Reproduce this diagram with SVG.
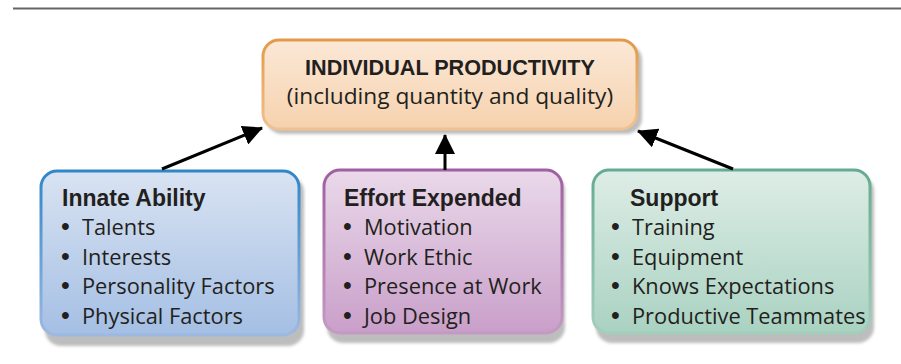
<svg xmlns="http://www.w3.org/2000/svg" width="901" height="364" viewBox="0 0 901 364">
<defs>
<style>
.t{font-family:"Open Sans","Liberation Sans",sans-serif;font-size:21.8px;fill:#231f20}
.b{font-family:"Liberation Sans",Arial,sans-serif;font-size:25px}
.h{font-family:"Liberation Sans",Arial,sans-serif;font-weight:bold;font-size:23px;fill:#231f20}
.shadow{fill:#bdbdbd;filter:url(#blur)}
.conn{stroke:#000;stroke-width:3;fill:none;marker-end:url(#ah)}
</style>
<filter id="blur" x="-10%" y="-10%" width="120%" height="130%"><feGaussianBlur stdDeviation="1.5"/></filter>
<marker id="ah" markerUnits="userSpaceOnUse" markerWidth="20" markerHeight="20" viewBox="0 0 20 20" refX="19" refY="10" orient="auto"><path d="M0,0 L20,10 L0,20 z" fill="#000"/></marker>
<linearGradient id="fO" x1="0" y1="0" x2="0" y2="1"><stop offset="0" stop-color="#fbe8d6"/><stop offset="1" stop-color="#f6d2ae"/></linearGradient>
<linearGradient id="sO" x1="0" y1="0" x2="0" y2="1"><stop offset="0" stop-color="#e29a48"/><stop offset="1" stop-color="#f0c290"/></linearGradient>
<linearGradient id="fB" x1="0" y1="0" x2="0" y2="1"><stop offset="0" stop-color="#d9e3f2"/><stop offset="1" stop-color="#a4bfe4"/></linearGradient>
<linearGradient id="sB" x1="0" y1="0" x2="0" y2="1"><stop offset="0" stop-color="#2f86c8"/><stop offset="1" stop-color="#9db9e2"/></linearGradient>
<linearGradient id="fP" x1="0" y1="0" x2="0" y2="1"><stop offset="0" stop-color="#ead9ea"/><stop offset="1" stop-color="#c99fc9"/></linearGradient>
<linearGradient id="sP" x1="0" y1="0" x2="0" y2="1"><stop offset="0" stop-color="#a05fa0"/><stop offset="1" stop-color="#c49ac4"/></linearGradient>
<linearGradient id="fG" x1="0" y1="0" x2="0" y2="1"><stop offset="0" stop-color="#deede7"/><stop offset="1" stop-color="#a9d2c1"/></linearGradient>
<linearGradient id="sG" x1="0" y1="0" x2="0" y2="1"><stop offset="0" stop-color="#65ab90"/><stop offset="1" stop-color="#a3cfbd"/></linearGradient>
</defs>
<rect x="0" y="0" width="901" height="364" fill="#ffffff"/>
<line x1="13" y1="8.5" x2="901" y2="8.5" stroke="#666" stroke-width="2"/>

<g id="productivity">
<rect class="shadow" x="266" y="44" width="376" height="90" rx="16"/>
<rect x="263" y="40" width="374" height="89" rx="16" fill="url(#fO)" stroke="url(#sO)" stroke-width="3"/>
<text x="450" y="75" text-anchor="middle" style="font-family:'Liberation Sans',Arial,sans-serif;font-weight:bold;font-size:21.6px;fill:#231f20">INDIVIDUAL PRODUCTIVITY</text>
<text x="450" y="104" text-anchor="middle" class="t" style="font-size:22.7px">(including quantity and quality)</text>
</g>

<g id="innate">
<rect class="shadow" x="45" y="176" width="259" height="170" rx="16"/>
<rect x="41" y="171" width="258" height="164" rx="16" fill="url(#fB)" stroke="url(#sB)" stroke-width="3"/>
<text class="h" x="62" y="206">Innate Ability</text>
<text class="t" y="235"><tspan class="b" x="61">•</tspan><tspan x="82">Talents</tspan></text>
<text class="t" y="264.5"><tspan class="b" x="61">•</tspan><tspan x="82">Interests</tspan></text>
<text class="t" y="294"><tspan class="b" x="61">•</tspan><tspan x="82">Personality Factors</tspan></text>
<text class="t" y="323.5"><tspan class="b" x="61">•</tspan><tspan x="82">Physical Factors</tspan></text>
</g>

<g id="effort">
<rect class="shadow" x="327" y="175" width="238" height="168" rx="16"/>
<rect x="324" y="170" width="238" height="163" rx="16" fill="url(#fP)" stroke="url(#sP)" stroke-width="3"/>
<text class="h" x="344" y="206">Effort Expended</text>
<text class="t" y="235"><tspan class="b" x="343">•</tspan><tspan x="364">Motivation</tspan></text>
<text class="t" y="264.5"><tspan class="b" x="343">•</tspan><tspan x="364">Work Ethic</tspan></text>
<text class="t" y="294"><tspan class="b" x="343">•</tspan><tspan x="364">Presence at Work</tspan></text>
<text class="t" y="323.5"><tspan class="b" x="343">•</tspan><tspan x="364">Job Design</tspan></text>
</g>

<g id="support">
<rect class="shadow" x="596" y="175" width="278" height="168" rx="16"/>
<rect x="593" y="170" width="277" height="163" rx="16" fill="url(#fG)" stroke="url(#sG)" stroke-width="3"/>
<text class="h" x="630" y="206">Support</text>
<text class="t" y="235"><tspan class="b" x="611">•</tspan><tspan x="632">Training</tspan></text>
<text class="t" y="264.5"><tspan class="b" x="611">•</tspan><tspan x="632">Equipment</tspan></text>
<text class="t" y="294"><tspan class="b" x="611">•</tspan><tspan x="632">Knows Expectations</tspan></text>
<text class="t" y="323.5"><tspan class="b" x="611">•</tspan><tspan x="632">Productive Teammates</tspan></text>
</g>

<g id="connectors">
<line class="conn" x1="162" y1="169" x2="262" y2="128"/>
<line class="conn" x1="445" y1="170" x2="445" y2="135"/>
<line class="conn" x1="733" y1="169" x2="638" y2="131"/>
</g>
</svg>
